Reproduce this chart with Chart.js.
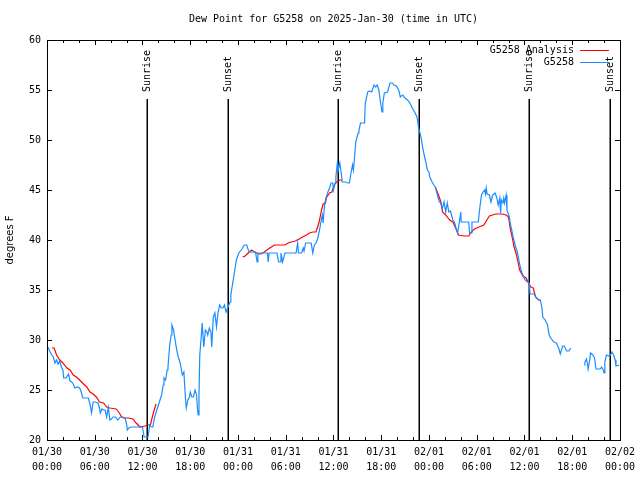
<!DOCTYPE html>
<html lang="en">
<head>
  <meta charset="UTF-8">
  <title>Dew Point for G5258</title>
  <script src="https://cdn.jsdelivr.net/npm/chart.js"></script>
  <style>
    html, body { margin: 0; padding: 0; background: #fff; }
    canvas { display: block; }
  </style>
</head>
<body>
  <canvas id="dewChart" width="640" height="480"></canvas>

  <script>
    // hours since 2025-01-30 00:00 UTC
    const obsHours = [
      0.1, 0.4, 0.6, 0.8, 1.0, 1.2, 1.4, 1.6, 1.8, 2.0, 2.1, 2.4, 2.7, 2.9, 3.1, 3.3, 3.5, 3.8, 4.1, 4.3,
      4.5, 4.9, 5.2, 5.4, 5.6, 5.8, 6.1, 6.4, 6.6, 6.7, 6.9, 7.1, 7.3, 7.5, 7.7, 7.9, 8.1, 8.3, 8.6, 8.9,
      9.2, 9.5, 9.8, 10.0, 10.1, 10.3, 10.6, 11.0, 11.4, 11.7, 12.0, 12.2, 12.5, 12.7, 12.9, 13.1, 13.3, 13.5, 13.8, 14.0,
      14.2, 14.4, 14.6, 14.7, 14.9, 15.1, 15.2, 15.4, 15.6, 15.7, 15.9, 16.1, 16.3, 16.5, 16.7, 16.9, 17.0, 17.2, 17.3, 17.4,
      17.5, 17.7, 17.9, 18.0, 18.2, 18.4, 18.6, 18.8, 18.9, 19.0, 19.1, 19.2, 19.4, 19.5, 19.7, 19.9, 20.1, 20.2, 20.4, 20.6,
      20.7, 20.9, 21.1, 21.3, 21.5, 21.7, 21.9, 22.1, 22.3, 22.5, 22.7, 23.0, 23.1, 23.3, 23.4, 23.6, 23.8, 24.1, 24.3, 24.5,
      24.8, 25.1, 25.3, 25.4, 25.8, 26.2, 26.4, 26.5, 27.0, 27.5, 27.7, 27.8, 27.9, 28.4, 28.9, 29.0, 29.1, 29.3, 29.4, 29.6,
      29.9, 30.5, 31.0, 31.3, 31.5, 31.6, 32.0, 32.2, 32.3, 32.5, 33.0, 33.2, 33.4, 33.6, 33.8, 34.0, 34.2, 34.4, 34.6, 34.7,
      34.9, 35.1, 35.3, 35.5, 35.7, 35.9, 36.0, 36.2, 36.3, 36.5, 36.6, 36.8, 37.0, 37.1, 37.5, 37.8, 38.0, 38.2, 38.4, 38.5,
      38.6, 38.8, 39.1, 39.2, 39.4, 39.9, 40.0, 40.3, 40.5, 40.8, 41.1, 41.3, 41.5, 41.7, 41.9, 42.1, 42.2, 42.4, 42.8, 43.1,
      43.4, 43.6, 43.9, 44.2, 44.4, 44.7, 45.0, 45.3, 45.6, 45.9, 46.2, 46.5, 46.7, 47.0, 47.2, 47.4, 47.6, 47.8, 48.0, 48.1,
      48.4, 48.6, 48.8, 49.0, 49.3, 49.4, 49.7, 49.9, 50.1, 50.3, 50.5, 50.7, 51.0, 51.2, 51.4, 51.6, 51.8, 52.0, 52.05, 52.5,
      53.0, 53.1, 53.3, 53.4, 53.8, 54.2, 54.4, 54.6, 54.8, 55.0, 55.1, 55.2, 55.3, 55.6, 55.8, 56.0, 56.3, 56.5, 56.7, 56.9,
      57.0, 57.1, 57.3, 57.4, 57.5, 57.7, 57.8, 58.1, 58.2, 58.4, 58.6, 58.9, 59.1, 59.3, 59.5, 59.7, 59.9, 60.1, 60.4, 60.6,
      60.7, 61.0, 61.2, 61.5, 61.8, 62.0, 62.2, 62.3, 62.6, 62.9, 63.1, 63.3, 63.7, 64.0, 64.3, 64.5, 64.8, 65.0, 65.3, 65.6,
      65.8, 66.6, 67.5, 67.6, 67.8, 67.9, 68.0, 68.2, 68.3, 68.6, 68.8, 69.0, 69.5, 69.7, 69.9, 70.0, 70.1, 70.3, 70.6, 70.8,
      71.0, 71.2, 71.4, 71.5, 71.9
    ];
    const obsDew = [
      29.3, 28.8, 28.5, 28.3, 27.7, 28.0, 27.6, 27.9, 27.3, 27.0, 26.2, 26.2, 26.6, 25.9, 25.8, 25.6, 25.2, 25.3, 25.2, 24.8,
      24.2, 24.2, 24.2, 23.6, 22.7, 23.8, 23.8, 23.7, 23.2, 22.7, 23.1, 23.0, 23.0, 22.3, 23.3, 22.0, 22.1, 22.3, 22.3, 22.0,
      22.3, 22.3, 22.2, 21.6, 21.0, 21.2, 21.3, 21.3, 21.3, 21.3, 21.3, 20.3, 20.3, 20.3, 21.5, 21.3, 21.3, 22.2, 23.0, 23.5,
      24.0, 24.5, 25.5, 26.2, 26.0, 27.0, 27.3, 29.3, 30.5, 31.5, 31.0, 30.0, 29.0, 28.3, 27.8, 27.0, 26.5, 26.8, 25.5, 24.2,
      23.2, 24.0, 24.3, 24.8, 24.3, 24.3, 25.0, 24.5, 23.2, 22.5, 24.5, 28.5, 30.5, 31.7, 29.3, 31.0, 30.8, 30.5, 31.2, 30.8,
      29.3, 32.3, 32.7, 31.3, 32.8, 33.5, 33.2, 33.2, 33.5, 32.8, 33.2, 33.8, 34.5, 35.5, 36.0, 37.0, 38.0, 38.7, 38.9, 39.1,
      39.5, 39.5, 39.0, 38.8, 38.8, 38.8, 37.8, 38.7, 38.7, 38.7, 38.7, 37.8, 38.7, 38.7, 38.7, 38.2, 37.8, 37.8, 38.7, 37.8,
      38.7, 38.7, 38.7, 38.7, 39.7, 38.7, 38.7, 39.2, 38.9, 39.7, 39.7, 39.7, 38.7, 39.5, 39.7, 40.1, 40.8, 41.7, 42.5, 41.7,
      43.7, 44.3, 44.8, 45.2, 45.7, 45.7, 45.0, 45.7, 46.3, 47.8, 47.0, 47.7, 46.5, 45.8, 45.8, 45.7, 45.7, 46.7, 47.5, 47.0,
      47.8, 49.8, 50.7, 51.0, 51.7, 51.7, 53.7, 54.8, 54.9, 54.8, 55.5, 55.3, 55.5, 55.0, 53.8, 52.8, 53.7, 54.7, 54.8, 55.7,
      55.7, 55.5, 55.4, 55.0, 54.3, 54.5, 54.2, 54.0, 53.7, 53.2, 52.8, 52.3, 51.2, 50.3, 49.3, 48.5, 47.8, 47.0, 46.8, 46.3,
      45.8, 45.5, 45.3, 44.7, 43.8, 43.8, 43.2, 43.8, 42.8, 43.7, 42.8, 42.9, 42.0, 41.8, 41.2, 40.7, 41.7, 42.8, 41.8, 41.8,
      41.8, 40.7, 40.7, 41.8, 41.8, 41.8, 43.3, 44.5, 44.8, 45.0, 44.6, 45.2, 44.6, 44.5, 43.8, 44.5, 44.7, 44.3, 43.5, 44.2,
      42.7, 44.0, 43.7, 44.2, 43.7, 44.5, 43.0, 42.3, 41.7, 41.0, 40.2, 39.3, 38.8, 38.0, 37.2, 36.7, 36.3, 36.0, 35.8, 35.7,
      34.6, 34.6, 34.6, 34.2, 34.0, 34.0, 33.2, 32.3, 32.0, 31.5, 30.5, 30.2, 29.8, 29.7, 29.2, 28.6, 29.4, 29.4, 28.9, 28.9,
      29.2, null, 27.5, 27.8, 28.1, 27.7, 27.1, 28.0, 28.7, 28.5, 28.2, 27.1, 27.1, 27.3, 27.0, 26.7, 27.8, 28.5, 28.4, 28.5,
      28.8, 28.5, 28.0, 27.4, 27.5
    ];

    const anaHours = [
      0.6, 0.9, 1.2, 1.6, 2.0, 2.5, 2.9, 3.3, 3.7, 4.1, 4.6, 5.0, 5.4, 5.8, 6.2, 6.6, 7.1, 7.5, 7.9, 8.7,
      9.0, 9.4, 9.6, 10.2, 10.8, 11.2, 11.7, 12.3, 12.7, 13.0, 13.2, 13.4, 13.7, 13.8, 19.0,
      24.6, 24.9, 25.3, 25.7, 26.1, 26.6, 26.9, 27.3, 27.8, 28.2, 28.6, 29.9, 30.3, 30.7, 31.2, 31.7, 32.1, 32.6, 33.0, 33.4,
      33.8, 34.0, 34.2, 34.5, 34.7, 35.0, 35.1, 35.5, 35.8, 36.1, 36.4, 36.8, 37.1, 43.0,
      48.8, 49.2, 49.5, 49.7, 50.1, 50.6, 51.0, 51.3, 51.7, 52.4, 53.0, 53.2, 53.7, 54.3, 54.9, 55.2, 55.6, 56.4, 57.2, 57.7,
      58.0, 58.2, 58.4, 58.7, 59.0, 59.4, 59.8, 60.2, 60.8, 61.1, 61.4, 61.8, 62.0
    ];
    const anaDew = [
      29.2, 29.2, 28.5, 28.0, 27.7, 27.2, 27.0, 26.5, 26.3, 26.0, 25.6, 25.3, 24.8, 24.6, 24.3, 23.8, 23.7, 23.3, 23.2, 23.1,
      22.8, 22.3, 22.2, 22.2, 22.1, 21.7, 21.3, 21.4, 21.5, 21.5, 22.2, 22.8, 23.6, 23.6, null,
      38.3, 38.4, 38.7, 39.0, 38.8, 38.6, 38.6, 38.8, 39.1, 39.3, 39.5, 39.5, 39.7, 39.8, 39.9, 40.1, 40.3, 40.5, 40.7, 40.8,
      40.8, 41.3, 41.8, 43.0, 43.6, 43.7, 44.2, 44.7, 44.8, 45.5, 45.8, 46.0, 46.0, null,
      45.3, 44.5, 43.8, 42.8, 42.5, 42.0, 41.8, 41.3, 40.5, 40.4, 40.4, 40.7, 41.1, 41.3, 41.5, 41.9, 42.4, 42.6, 42.6, 42.5,
      42.3, 41.2, 40.5, 39.3, 38.5, 37.0, 36.4, 36.2, 35.3, 35.2, 34.3, 34.0, 34.0
    ];

    const sunHours = [12.58, 22.74, 36.54, 46.70, 60.62, 70.79];
    const sunLabels = ['Sunrise', 'Sunset', 'Sunrise', 'Sunset', 'Sunrise', 'Sunset'];
    const dayLabels = ['01/30', '01/31', '02/01', '02/02'];
    const yTicks = [20, 25, 30, 35, 40, 45, 50, 55, 60];

    const MONO = "'DejaVu Sans Mono', monospace";
    const RED = '#ff0000';
    const BLUE = '#1a8cff';

    function toPoints(xs, ys) {
      return xs.map((x, i) => ({ x: x, y: ys[i] }));
    }

    function hourLabel(h) {
      if (h % 6 !== 0) return '';
      const day = dayLabels[Math.floor(h / 24)];
      const hh = String(h % 24).padStart(2, '0');
      return [day, hh + ':00'];
    }

    // gnuplot look: box, inward mirrored ticks, sun markers, key, title
    const gnuplotDecor = {
      id: 'gnuplotDecor',
      beforeDatasetsDraw(chart) {
        const ctx = chart.ctx;
        const area = chart.chartArea;
        const xs = chart.scales.x;
        ctx.save();
        ctx.strokeStyle = '#000';
        ctx.lineWidth = 1.5;
        sunHours.forEach(h => {
          const px = Math.round(xs.getPixelForValue(h)) + 0.25;
          ctx.beginPath();
          ctx.moveTo(px, area.top + 59);
          ctx.lineTo(px, area.bottom);
          ctx.stroke();
        });
        ctx.restore();
      },
      afterDatasetsDraw(chart) {
        const ctx = chart.ctx;
        const area = chart.chartArea;
        const xs = chart.scales.x;
        const ys = chart.scales.y;
        ctx.save();

        // ticks
        ctx.strokeStyle = '#000';
        ctx.lineWidth = 1;
        ctx.beginPath();
        for (let h = 0; h <= 72; h += 2) {
          const px = Math.round(xs.getPixelForValue(h)) + 0.5;
          const len = h % 6 === 0 ? 5 : 3;
          ctx.moveTo(px, area.bottom);
          ctx.lineTo(px, area.bottom - len);
          ctx.moveTo(px, area.top);
          ctx.lineTo(px, area.top + len);
        }
        yTicks.forEach(v => {
          const py = Math.round(ys.getPixelForValue(v)) + 0.5;
          ctx.moveTo(area.left, py);
          ctx.lineTo(area.left + 5, py);
          ctx.moveTo(area.right, py);
          ctx.lineTo(area.right - 5, py);
        });
        ctx.stroke();

        // frame
        ctx.strokeRect(Math.round(area.left) + 0.5, Math.round(area.top) + 0.5,
          Math.round(area.right - area.left), Math.round(area.bottom - area.top));

        // sunrise / sunset labels
        ctx.fillStyle = '#000';
        ctx.font = '10px ' + MONO;
        ctx.textAlign = 'left';
        ctx.textBaseline = 'middle';
        sunHours.forEach((h, i) => {
          const px = xs.getPixelForValue(h);
          ctx.save();
          ctx.translate(px + 0.5, area.top + 52);
          ctx.rotate(-Math.PI / 2);
          ctx.fillText(sunLabels[i], 0, 0);
          ctx.restore();
        });

        // key
        const keyRows = [
          { label: 'G5258 Analysis', color: RED },
          { label: 'G5258', color: BLUE }
        ];
        ctx.textAlign = 'right';
        keyRows.forEach((row, i) => {
          const py = area.top + 10 + i * 12;
          ctx.fillStyle = '#000';
          ctx.fillText(row.label, area.right - 46, py);
          ctx.strokeStyle = row.color;
          ctx.lineWidth = 1;
          ctx.beginPath();
          ctx.moveTo(area.right - 40, Math.round(py) + 0.5);
          ctx.lineTo(area.right - 11, Math.round(py) + 0.5);
          ctx.stroke();
        });

        // title
        ctx.fillStyle = '#000';
        ctx.textAlign = 'center';
        ctx.fillText('Dew Point for G5258 on 2025-Jan-30 (time in UTC)', (area.left + area.right) / 2, 19);

        ctx.restore();
      }
    };

    new Chart(document.getElementById('dewChart'), {
      type: 'scatter',
      data: {
        datasets: [
          {
            label: 'G5258',
            data: toPoints(obsHours, obsDew),
            showLine: true,
            borderColor: BLUE,
            borderWidth: 1.2,
            pointRadius: 0,
            tension: 0,
            spanGaps: false,
            order: 0
          },
          {
            label: 'G5258 Analysis',
            data: toPoints(anaHours, anaDew),
            showLine: true,
            borderColor: RED,
            borderWidth: 1.2,
            pointRadius: 0,
            tension: 0,
            spanGaps: false,
            order: 1
          }
        ]
      },
      options: {
        responsive: false,
        animation: false,
        devicePixelRatio: 1,
        layout: { padding: { top: 40, right: 18, left: 0, bottom: 0 } },
        plugins: {
          legend: { display: false },
          tooltip: { enabled: false }
        },
        scales: {
          x: {
            type: 'linear',
            min: 0,
            max: 72,
            border: { display: false },
            grid: { display: false, drawTicks: false },
            ticks: {
              stepSize: 2,
              autoSkip: false,
              maxRotation: 0,
              padding: 5,
              color: '#000',
              font: { family: MONO, size: 10, lineHeight: 1.5 },
              callback: v => hourLabel(v)
            },
            afterFit: s => { s.height = 40; }
          },
          y: {
            min: 20,
            max: 60,
            border: { display: false },
            grid: { display: false, drawTicks: false },
            ticks: {
              stepSize: 5,
              padding: 6,
              color: '#000',
              font: { family: MONO, size: 10 }
            },
            title: {
              display: true,
              text: 'degrees F',
              color: '#000',
              font: { family: "'DejaVu Sans', sans-serif", size: 10 },
              padding: { top: 4, bottom: 0 }
            },
            afterFit: s => { s.width = 47; }
          }
        }
      },
      plugins: [gnuplotDecor]
    });
  </script>
</body>
</html>
